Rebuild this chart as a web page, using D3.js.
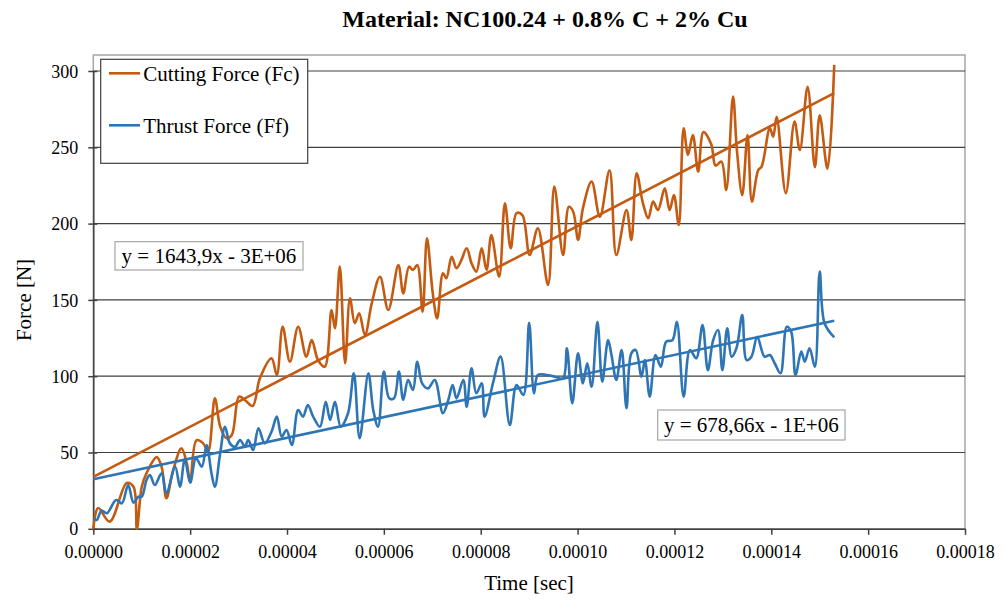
<!DOCTYPE html>
<html>
<head>
<meta charset="utf-8">
<script src="https://cdn.jsdelivr.net/npm/d3@7"></script>
<style>
  body { margin: 0; background: #fff; }
  text { font-family: "Liberation Serif", "Times New Roman", serif; fill: #000; }
</style>
</head>
<body>
<svg id="chart" width="1005" height="601"></svg>
<script>
// time in microseconds, values in N
const fcTime = [0.0, 1.0, 3.4, 6.9, 8.3, 9.0, 10.0, 11.0, 13.1, 14.1, 15.1, 16.5, 18.2, 19.3, 20.0, 21.3, 22.7, 23.7, 25.1, 26.2,
  27.5, 28.6, 30.1, 31.3, 32.9, 34.4, 36.8, 37.9, 39.1, 40.6, 42.3, 44.0, 45.1, 46.4, 47.8, 49.2, 49.9, 50.9, 52.0, 53.0,
  54.0, 54.9, 56.1, 57.5, 59.2, 60.9, 63.0, 64.0, 65.2, 66.0, 66.9, 68.0, 68.9, 70.1, 71.0, 72.2, 72.9, 74.0, 75.0, 76.0,
  77.1, 78.1, 79.1, 80.2, 81.2, 82.2, 83.8, 85.0, 86.2, 87.4, 88.6, 90.1, 91.8, 93.9, 95.2, 97.0, 98.2, 99.1, 100.1, 101.1,
  102.9, 104.6, 106.6, 108.0, 110.1, 111.1, 112.2, 113.5, 114.6, 115.6, 116.6, 118.0, 119.0, 119.9, 120.9, 121.9, 122.8, 123.8, 124.9, 126.0,
  127.6, 128.5, 129.7, 130.7, 132.1, 132.9, 134.0, 135.1, 136.0, 137.3, 138.0, 139.7, 140.4, 141.1, 143.0, 144.8, 145.9, 147.5, 149.0, 150.0,
  151.6, 153.0];
const fcValues = [0, 13.6, 4.7, 30, 27.6, 0, 27.6, 36.5, 47, 40.7, 20, 38.5, 52.7, 43, 30.9, 58, 56, 50.5, 85.5, 67,
  59.3, 61.5, 86.6, 84.4, 80.5, 98.6, 111.7, 100.8, 132.4, 109.5, 132.4, 112.8, 123.7, 110.6, 106.2, 143.4, 131.4, 171.8, 108.5, 151,
  134.7, 141.2, 127, 147.8, 165.2, 143.4, 172.9, 154.3, 171.8, 169.6, 172.9, 142.3, 190.4, 154.3, 137.9, 167.4, 164.2, 178.3, 170.7, 176.1,
  183.8, 174, 168.5, 183.8, 169.6, 192.5, 165.2, 213.3, 183.8, 206.8, 205.6, 179.4, 196.9, 159.8, 224.2, 179.4, 211, 207.8, 189.3, 210,
  227.5, 204.5, 235, 179.4, 208.9, 189.3, 232.9, 213.3, 203.5, 214.4, 208.9, 223.1, 208.9, 218.7, 199.1, 262.5, 245, 258, 234, 260,
  252, 238, 240.6, 222, 283.2, 248.2, 218.7, 258, 214.4, 235.1, 237.3, 262.4, 257, 270, 219.9, 266.8, 248.2, 289.7, 237, 271,
  236, 304];

const ffTime = [0.0, 0.7, 1.7, 2.8, 4.7, 5.9, 7.2, 8.3, 9.3, 10.0, 11.0, 11.7, 12.7, 14.1, 15.1, 16.9, 17.9, 18.9, 20.0, 21.2,
  22.4, 23.4, 24.4, 25.1, 26.2, 27.2, 28.2, 29.3, 30.3, 31.3, 32.0, 33.0, 34.1, 35.4, 36.8, 37.9, 38.9, 39.9, 41.0, 42.3,
  43.3, 44.3, 45.4, 46.8, 48.0, 48.9, 49.9, 51.1, 52.6, 53.8, 55.0, 56.8, 57.8, 58.8, 60.0, 61.1, 62.1, 63.1, 64.0, 65.0,
  66.0, 66.9, 67.9, 69.1, 70.5, 72.2, 73.3, 74.2, 75.0, 76.4, 77.1, 78.1, 79.1, 80.2, 80.8, 82.6, 84.1, 86.0, 87.4, 88.8,
  90.0, 91.0, 91.8, 93.6, 95.3, 97.0, 97.8, 98.9, 100.1, 101.1, 102.0, 102.9, 104.1, 105.1, 106.3, 107.0, 108.0, 109.1, 110.1, 111.1,
  112.0, 113.2, 113.9, 114.9, 116.1, 117.2, 118.3, 119.6, 120.5, 121.9, 123.2, 124.5, 125.8, 126.9, 128.0, 129.0, 129.9, 130.9, 131.8, 132.8,
  134.0, 134.9, 135.9, 137.1, 138.6, 139.7, 140.7, 141.9, 143.2, 144.1, 145.0, 146.2, 146.9, 147.9, 149.0, 150.0, 151.0, 153.0];
const ffValues = [6.9, 5.8, 11.9, 10.2, 18.9, 16.7, 28.7, 17.1, 21, 21, 32, 35.3, 28.7, 36.4, 23.3, 40.7, 27.6, 45.5, 30.2, 46.2,
  40.7, 54.9, 36.4, 27.6, 49.5, 66.9, 56, 53.8, 58.2, 53.8, 58.2, 51.6, 65.9, 56, 63.6, 73.5, 60.4, 64.7, 54.9, 77.9,
  73.5, 81.1, 73.5, 66.9, 83.3, 71.3, 83.3, 66.9, 75.7, 101.9, 59.3, 101.9, 77.9, 66.9, 103, 85.5, 85.5, 103, 84.4, 97.5,
  91, 109.5, 95.3, 92, 97.5, 75.7, 84.4, 94.2, 85.5, 97.5, 80, 105.2, 88.8, 95.3, 73.5, 96.4, 112.8, 68, 94.2, 87.7,
  135, 88.8, 100.8, 100.8, 99.7, 98.6, 118.3, 82.2, 115, 95.3, 108.4, 93.1, 135.7, 96.4, 123.7, 113.9, 97.5, 117.2, 79, 115,
  117.2, 99.7, 110.6, 86.6, 113.9, 106.2, 122.6, 123.7, 135.7, 86.6, 117.2, 111.7, 133.5, 104, 123.7, 130.3, 104, 131.4, 112.8, 118.3,
  140.1, 110.6, 112.8, 125.9, 112.8, 113.9, 108.5, 101.9, 132.4, 129.2, 100.8, 116.1, 109.5, 118.3, 106.2, 168.5, 134.7, 125.5];

// linear trendlines: [intercept N, slope N per second]
const fcTrend = [34, 1643.9e3];
const ffTrend = [32.5, 678.66e3];

const xTicks = [0, 0.00002, 0.00004, 0.00006, 0.00008, 0.0001, 0.00012, 0.00014, 0.00016, 0.00018];
const yTicks = [0, 50, 100, 150, 200, 250, 300];

const seriesNames = ["Cutting Force (Fc)", "Thrust Force (Ff)"];
const seriesColors = ["#c55a11", "#2e75b6"];
const equationLabels = ["y = 1643,9x - 3E+06", "y = 678,66x - 1E+06"];

const svg = d3.select("#chart");
const plotLeft = 93.3, plotRight = 965, plotTop = 55, plotBottom = 528.8;

const x = d3.scaleLinear().domain([0, 0.00018]).range([plotLeft, plotRight]);
const y = d3.scaleLinear().domain([0, 300]).range([plotBottom, 71]);

// plot area border
svg.append("rect")
  .attr("x", plotLeft)
  .attr("y", plotTop)
  .attr("width", plotRight - plotLeft)
  .attr("height", plotBottom - plotTop)
  .attr("fill", "none")
  .attr("stroke", "#a6a6a6")
  .attr("stroke-width", 1.5);

// gridlines
svg.append("g")
  .selectAll("line")
  .data(yTicks.filter(d => d > 0))
  .join("line")
  .attr("x1", plotLeft)
  .attr("x2", plotRight)
  .attr("y1", d => y(d))
  .attr("y2", d => y(d))
  .attr("stroke", "#404040")
  .attr("stroke-width", 1.2);

// axes
let xAxis = svg.append("g")
  .attr("transform", "translate(0," + plotBottom + ")")
  .call(d3.axisBottom(x).tickValues(xTicks).tickFormat(d3.format(".5f")).tickSize(6).tickSizeOuter(0).tickPadding(10));

let yAxis = svg.append("g")
  .attr("transform", "translate(" + plotLeft + ",0)")
  .call(d3.axisLeft(y).tickValues(yTicks).tickSize(5).tickSizeOuter(0).tickPadding(10));

yAxis.selectAll(".tick line").attr("x2", 4).attr("x1", -5);

[xAxis, yAxis].forEach(function (a) {
  a.select(".domain").attr("stroke", "#404040").attr("stroke-width", 1.5);
  a.selectAll(".tick line").attr("stroke", "#404040").attr("stroke-width", 1.5);
  a.selectAll(".tick text")
    .style("font-family", "'Liberation Serif', 'Times New Roman', serif")
    .style("font-size", "18px")
    .attr("fill", "#000");
});
yAxis.selectAll(".tick text").attr("dy", "0.34em");

const line = d3.line()
  .x(d => x(d[0] * 1e-6))
  .y(d => y(d[1]))
  .curve(d3.curveCatmullRom.alpha(0.5));

function drawSeries(times, values, trend, color) {
  let pts = times.map((t, i) => [t, values[i]]);
  let tEnd = times[times.length - 1] * 1e-6;

  svg.append("path")
    .datum(pts)
    .attr("d", line)
    .attr("fill", "none")
    .attr("stroke", color)
    .attr("stroke-width", 2.6)
    .attr("stroke-linejoin", "round");

  svg.append("line")
    .attr("x1", x(0))
    .attr("y1", y(trend[0]))
    .attr("x2", x(tEnd))
    .attr("y2", y(trend[0] + trend[1] * tEnd))
    .attr("stroke", color)
    .attr("stroke-width", 2.6);
}

drawSeries(fcTime, fcValues, fcTrend, seriesColors[0]);
drawSeries(ffTime, ffValues, ffTrend, seriesColors[1]);

// equation labels
function addEquation(txt, bx, by, bw, bh) {
  svg.append("rect")
    .attr("x", bx)
    .attr("y", by)
    .attr("width", bw)
    .attr("height", bh)
    .attr("fill", "#fff")
    .attr("stroke", "#a6a6a6")
    .attr("stroke-width", 1.2);
  svg.append("text")
    .attr("x", bx + bw / 2)
    .attr("y", by + bh / 2)
    .attr("dy", "0.35em")
    .attr("text-anchor", "middle")
    .style("font-size", "21px")
    .text(txt);
}
addEquation(equationLabels[0], 115, 241.7, 188, 28.3);
addEquation(equationLabels[1], 657.7, 410, 187.3, 30);

// legend
let legend = svg.append("g");
legend.append("rect")
  .attr("x", 100.7)
  .attr("y", 59.3)
  .attr("width", 207)
  .attr("height", 104)
  .attr("fill", "#fff")
  .attr("stroke", "#404040")
  .attr("stroke-width", 1.2);

seriesNames.forEach(function (name, i) {
  let ly = 73.3 + i * 52;
  legend.append("line")
    .attr("x1", 109)
    .attr("x2", 140)
    .attr("y1", ly)
    .attr("y2", ly)
    .attr("stroke", seriesColors[i])
    .attr("stroke-width", 2.6);
  legend.append("text")
    .attr("x", 143.3)
    .attr("y", ly)
    .attr("dy", "0.35em")
    .style("font-size", "21px")
    .text(name);
});

// titles
svg.append("text")
  .attr("x", 545)
  .attr("y", 27)
  .attr("text-anchor", "middle")
  .style("font-size", "24px")
  .style("font-weight", "bold")
  .text("Material: NC100.24 + 0.8% C + 2% Cu");

svg.append("text")
  .attr("x", 529)
  .attr("y", 590)
  .attr("text-anchor", "middle")
  .style("font-size", "21px")
  .text("Time [sec]");

svg.append("text")
  .attr("transform", "translate(31,300) rotate(-90)")
  .attr("text-anchor", "middle")
  .style("font-size", "21px")
  .text("Force [N]");
</script>
</body>
</html>
